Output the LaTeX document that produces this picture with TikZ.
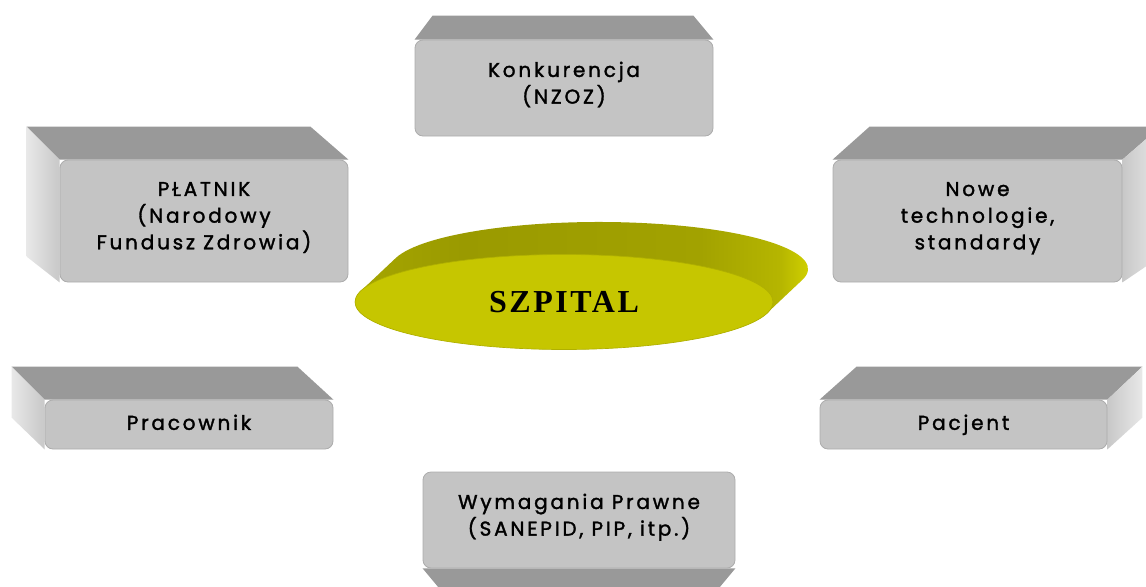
\documentclass[tikz,border=0pt]{standalone}
\usepackage{fontspec}
\setmainfont{Poppins}[LetterSpace=14, FakeBold=1.6]
\newfontfamily\titlefont{Liberation Serif}[LetterSpace=8]
\usetikzlibrary{shapes.geometric,backgrounds}

\definecolor{frontgray}{RGB}{196,196,196}
\definecolor{edgegray}{RGB}{172,172,172}
\definecolor{topgray}{RGB}{153,153,153}
\definecolor{sidelight}{RGB}{232,232,232}
\definecolor{sidedark}{RGB}{200,200,200}
\definecolor{discfront}{RGB}{198,198,0}
\definecolor{discedge}{RGB}{176,176,0}
\definecolor{discleft}{RGB}{168,168,0}
\definecolor{discback}{RGB}{154,154,0}
\definecolor{discmid}{RGB}{162,162,0}
\definecolor{discbright}{RGB}{226,226,0}
\pgfdeclarehorizontalshading{discshade}{100bp}{color(0bp)=(discleft); color(25bp)=(discleft);
  color(38bp)=(discback); color(62bp)=(discmid); color(70bp)=(discmid!70!discbright); color(75bp)=(discbright); color(100bp)=(discbright)}

\tikzset{
  face/.style={draw=edgegray, line width=0.6pt, fill=frontgray, rounded corners=6pt,
    align=center, inner sep=0pt, font=\fontsize{15}{20}\selectfont},
  boxsize/.style 2 args={minimum width=#1*0.75pt, minimum height=#2*0.75pt},
  oneline/.style={text height=11pt, text depth=3pt},
  topface/.style={fill=topgray},
  sideleft/.style={left color=sidelight, right color=sidedark},
  sideright/.style={left color=sidedark, right color=sidelight},
  discside/.style={shading=discshade},
  disc/.style={ellipse, draw=discedge, line width=0.5pt, fill=discfront, inner sep=0pt,
    minimum width=418*0.75pt, minimum height=95*0.75pt, font=\titlefont\bfseries\fontsize{24}{28}\selectfont}
}

\begin{document}
\begin{tikzpicture}[x=0.75pt,y=0.75pt,yscale=-1,xscale=1]
\useasboundingbox (0,0) rectangle (1146,586);

% Front faces
\node[face, boxsize={298}{96}] (konk) at (564,88) {Konkurencja\\(NZOZ)\\[-12pt]};
\node[face, boxsize={288}{122}] (plat) at (204,221) {PŁATNIK\\(Narodowy\\Fundusz Zdrowia)\\[-12pt]};
\node[face, boxsize={289}{122}] (nowe) at (977.5,221) {Nowe\\technologie,\\standardy\\[-12pt]};
\node[face, oneline, boxsize={288}{49}] (prac) at (189,424.5) {Pracownik};
\node[face, oneline, boxsize={287}{49}] (pacj) at (963.5,424.5) {Pacjent};
\node[face, boxsize={312}{96}] (wym) at (579,520) {Wymagania Prawne\\(SANEPID, PIP, itp.)\\[-12pt]};

\begin{scope}[on background layer]
% Konkurencja
\fill[topface] (konk.north west) -- ++(18,-24) -- ([shift={(-20,-24)}]konk.north east) -- (konk.north east) -- cycle;
% PLATNIK
\fill[topface] (plat.north west) -- ++(-33,-33) -- ([shift={(-38,-33)}]plat.north east) -- (plat.north east) -- cycle;
\shade[sideleft] (plat.north west) -- ++(-33,-33) -- ++(0,130) -- (plat.south west) -- cycle;
% Nowe technologie
\fill[topface] (nowe.north west) -- ++(37,-33) -- ([shift={(38,-33)}]nowe.north east) -- (nowe.north east) -- cycle;
\shade[sideright] (nowe.north east) -- ++(38,-33) -- ++(0,130) -- (nowe.south east) -- cycle;
% Pracownik
\fill[topface] (prac.north west) -- ++(-33,-33) -- ([shift={(-36,-33)}]prac.north east) -- (prac.north east) -- cycle;
\shade[sideleft] (prac.north west) -- ++(-33,-33) -- ++(0,51) -- (prac.south west) -- cycle;
% Pacjent
\fill[topface] (pacj.north west) -- ++(37,-33) -- ([shift={(35,-33)}]pacj.north east) -- (pacj.north east) -- cycle;
\shade[sideright] (pacj.north east) -- ++(35,-33) -- ++(0,51) -- (pacj.south east) -- cycle;
% Wymagania
\fill[topface] (wym.south west) -- ++(20,24) -- ([shift={(-20,24)}]wym.south east) -- (wym.south east) -- cycle;
\end{scope}

% SZPITAL disc
\coordinate (hub) at (564,302);
\shade[discside] ([shift={(-203.3,-10.9)}]hub) -- ++(35,-33)
  arc[start angle=193.4, end angle=373.4, x radius=209, y radius=47] -- ++(-35,33)
  arc[start angle=13.4, end angle=193.4, x radius=209, y radius=47] -- cycle;
\node[disc] (szpital) at (hub) {SZPITAL};

\end{tikzpicture}
\end{document}
